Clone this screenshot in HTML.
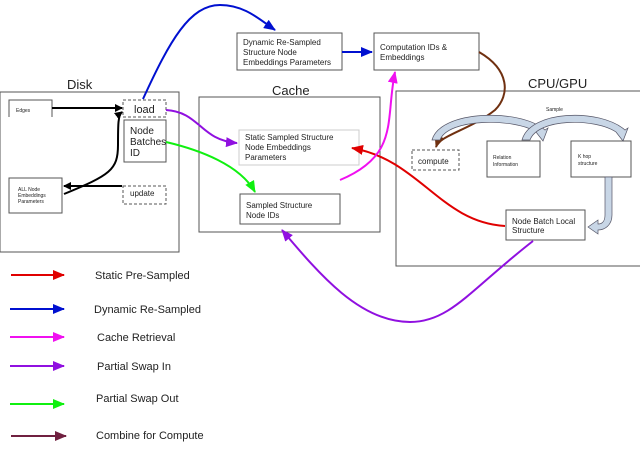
<!DOCTYPE html>
<html><head><style>body{margin:0;background:#fff}svg{display:block}text{font-family:"Liberation Sans",sans-serif;fill:#222}</style></head><body>
<svg width="640" height="450" viewBox="0 0 640 450" xmlns="http://www.w3.org/2000/svg">
<defs>
<marker id="k" markerWidth="8" markerHeight="8" refX="7" refY="4" orient="auto" markerUnits="userSpaceOnUse"><path d="M0,0 L8,4 L0,8 Z" fill="#000"/></marker>
<marker id="b" markerWidth="12" markerHeight="10" refX="11" refY="5" orient="auto" markerUnits="userSpaceOnUse"><path d="M0,0 L12,5 L0,10 Z" fill="#0010d0"/></marker>
<marker id="r" markerWidth="12" markerHeight="10" refX="11" refY="5" orient="auto" markerUnits="userSpaceOnUse"><path d="M0,0 L12,5 L0,10 Z" fill="#e00000"/></marker>
<marker id="m" markerWidth="12" markerHeight="10" refX="11" refY="5" orient="auto" markerUnits="userSpaceOnUse"><path d="M0,0 L12,5 L0,10 Z" fill="#f010f0"/></marker>
<marker id="p" markerWidth="12" markerHeight="10" refX="11" refY="5" orient="auto" markerUnits="userSpaceOnUse"><path d="M0,0 L12,5 L0,10 Z" fill="#9010e0"/></marker>
<marker id="g" markerWidth="12" markerHeight="10" refX="11" refY="5" orient="auto" markerUnits="userSpaceOnUse"><path d="M0,0 L12,5 L0,10 Z" fill="#10f010"/></marker>
<marker id="n" markerWidth="12" markerHeight="10" refX="11" refY="5" orient="auto" markerUnits="userSpaceOnUse"><path d="M0,0 L12,5 L0,10 Z" fill="#703010"/></marker>
<marker id="w" markerWidth="12" markerHeight="10" refX="11" refY="5" orient="auto" markerUnits="userSpaceOnUse"><path d="M0,0 L12,5 L0,10 Z" fill="#702040"/></marker>
</defs>
<g fill="none" stroke="#555" stroke-width="1">
<rect x="0" y="92" width="179" height="160"/>
<rect x="199" y="97" width="181" height="135"/>
<rect x="396" y="91" width="250" height="175"/>
<rect x="237" y="33" width="105" height="37"/>
<rect x="374" y="33" width="105" height="37"/>
<path d="M9,117 V100 H52 V117"/>
<rect x="9" y="178" width="53" height="35"/>
<rect x="124" y="120" width="42" height="42"/>
<rect x="239" y="130" width="120" height="35" stroke="#ccc"/>
<rect x="240" y="194" width="100" height="30"/>
<rect x="487" y="141" width="53" height="36"/>
<rect x="571" y="141" width="60" height="36"/>
<rect x="506" y="210" width="79" height="30"/>
<g stroke-dasharray="3,2"><rect x="123" y="100" width="43" height="17"/><rect x="123" y="186" width="43" height="18"/><rect x="412" y="150" width="47" height="20"/></g>
</g>
<g font-size="13"><text x="67" y="89">Disk</text><text x="272" y="95">Cache</text><text x="528" y="88">CPU/GPU</text></g>
<g font-size="8"><text x="243" y="45">Dynamic Re-Sampled</text><text x="243" y="55">Structure Node</text><text x="243" y="65">Embeddings Parameters</text>
<text x="380" y="50">Computation IDs &amp;</text><text x="380" y="60">Embeddings</text>
<text x="245" y="140">Static Sampled Structure</text><text x="245" y="150">Node Embeddings</text><text x="245" y="160">Parameters</text>
<text x="246" y="208">Sampled Structure</text><text x="246" y="218">Node IDs</text>
<text x="512" y="224">Node Batch Local</text><text x="512" y="233">Structure</text>
<text x="418" y="164">compute</text><text x="130" y="196">update</text>
<text x="130" y="134" font-size="10">Node</text><text x="130" y="145" font-size="10">Batches</text><text x="130" y="156" font-size="10">ID</text></g>
<text x="134" y="113" font-size="11">load</text>
<g font-size="5"><text x="16" y="112">Edges</text><text x="18" y="191">ALL Node</text><text x="18" y="197">Embeddings</text><text x="18" y="203">Parameters</text>
<text x="493" y="159">Relation</text><text x="493" y="166">Information</text><text x="578" y="158">K hop</text><text x="578" y="165">structure</text><text x="546" y="111">Sample</text></g>
<g fill="none" stroke-width="2">
<path d="M52,108 H122" stroke="#000" marker-end="url(#k)"/>
<path d="M122,186 H64" stroke="#000" marker-end="url(#k)"/>
<path d="M64,194 C110,175 118,170 118,145 C118,125 118,115 122,112" stroke="#000" marker-end="url(#k)"/>
<path d="M143,99 C170,40 190,5 220,5 C245,5 260,20 275,30" stroke="#0010d0" marker-end="url(#b)"/>
<path d="M342,52 H372" stroke="#0010d0" marker-end="url(#b)"/>
<path d="M166,110 C200,112 200,140 237,143" stroke="#9010e0" marker-end="url(#p)"/>
<path d="M166,142 C200,150 240,165 255,192" stroke="#10f010" marker-end="url(#g)"/>
<path d="M505,226 C440,222 420,160 352,148" stroke="#e00000" marker-end="url(#r)"/>
<path d="M340,180 C400,155 385,120 395,72" stroke="#f010f0" marker-end="url(#m)"/>
<path d="M533,241 C470,290 450,322 410,322 C360,322 320,275 282,230" stroke="#9010e0" marker-end="url(#p)"/>
<path d="M479,52 C510,70 510,95 495,110 C470,130 440,135 436,147" stroke="#703010" marker-end="url(#n)"/>
</g>
<g fill="#c8d6e6" stroke="#556" stroke-width="0.7">
<path d="M432,140 C440,110 520,108 545,130 L548,128 L543,141 L536,132 C515,118 448,118 440,140 Z"/>
<path d="M522,140 C530,110 600,108 625,130 L628,128 L623,141 L616,132 C595,118 538,118 530,140 Z"/>
<path d="M605,177 L612,177 L612,215 C612,225 605,230 598,230 L598,234 L588,227 L598,220 L598,224 C603,224 605,220 605,215 Z"/>
</g>
<g stroke-width="2">
<line x1="11" y1="275" x2="64" y2="275" stroke="#e00000" marker-end="url(#r)"/>
<line x1="10" y1="309" x2="64" y2="309" stroke="#0010d0" marker-end="url(#b)"/>
<line x1="10" y1="337" x2="64" y2="337" stroke="#f010f0" marker-end="url(#m)"/>
<line x1="10" y1="366" x2="64" y2="366" stroke="#9010e0" marker-end="url(#p)"/>
<line x1="10" y1="404" x2="64" y2="404" stroke="#10f010" marker-end="url(#g)"/>
<line x1="11" y1="436" x2="66" y2="436" stroke="#702040" marker-end="url(#w)"/>
</g>
<g font-size="11"><text x="95" y="279">Static Pre-Sampled</text><text x="94" y="313">Dynamic Re-Sampled</text><text x="97" y="341">Cache Retrieval</text><text x="97" y="370">Partial Swap In</text><text x="96" y="402">Partial Swap Out</text><text x="96" y="439">Combine for Compute</text></g>
</svg>
</body></html>
